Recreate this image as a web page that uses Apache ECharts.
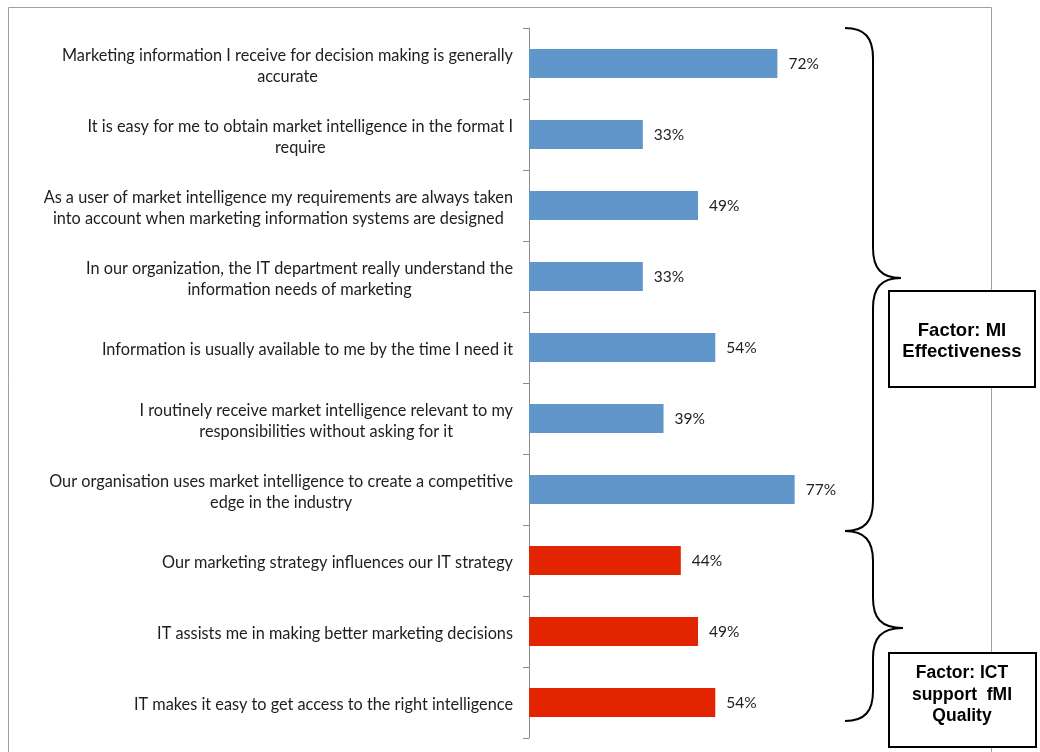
<!DOCTYPE html>
<html>
<head>
<meta charset="utf-8">
<script src="https://cdn.jsdelivr.net/npm/echarts@6/dist/echarts.min.js"></script>
<style>
html,body{margin:0;padding:0;background:#fff;}
#chart{width:1040px;height:752px;}
</style>
</head>
<body>
<div id="chart"></div>
<script>
const categories = [
  "Marketing information I receive for decision making is generally\naccurate",
  "It is easy for me to obtain market intelligence in the format I\nrequire",
  "As a user of market intelligence my requirements are always taken\ninto account when marketing information systems are designed",
  "In our organization, the IT department really understand the\ninformation needs of marketing",
  "Information is usually available to me by the time I need it",
  "I routinely receive market intelligence relevant to my\nresponsibilities without asking for it",
  "Our organisation uses market intelligence to create a competitive\nedge in the industry",
  "Our marketing strategy influences our IT strategy",
  "IT assists me in making better marketing decisions",
  "IT makes it easy to get access to the right intelligence"
];
const values = [72, 33, 49, 33, 54, 39, 77, 44, 49, 54];
const factorOf = ["MI", "MI", "MI", "MI", "MI", "MI", "MI", "ICT", "ICT", "ICT"];
const factorColors = { MI: "#6196CA", ICT: "#E32400" };
const factorBoxes = [
  "Factor: MI\nEffectiveness",
  "Factor: ICT\nsupport  fMI\nQuality"
];

const chart = echarts.init(document.getElementById('chart'));
const labelFont = 'Lato, "Open Sans", sans-serif';

// brace drawing: left x, spine x, tip x, top y, tip y, bottom y
function brace(xl, xv, xt, y0, ym, y1) {
  const st = { fill: 'none', stroke: '#000', lineWidth: 2 };
  const r = 30;
  const els = [];
  els.push({ type: 'bezierCurve', shape: { x1: xl, y1: y0, cpx1: xl + 20, cpy1: y0, cpx2: xv, cpy2: y0 + 10, x2: xv, y2: y0 + r }, style: st });
  els.push({ type: 'line', shape: { x1: xv, y1: y0 + r, x2: xv, y2: ym - r }, style: st });
  els.push({ type: 'bezierCurve', shape: { x1: xv, y1: ym - r, cpx1: xv, cpy1: ym - 10, cpx2: xv + 8, cpy2: ym, x2: xt, y2: ym }, style: st });
  els.push({ type: 'bezierCurve', shape: { x1: xt, y1: ym, cpx1: xv + 8, cpy1: ym, cpx2: xv, cpy2: ym + 10, x2: xv, y2: ym + r }, style: st });
  els.push({ type: 'line', shape: { x1: xv, y1: ym + r, x2: xv, y2: y1 - r }, style: st });
  els.push({ type: 'bezierCurve', shape: { x1: xv, y1: y1 - r, cpx1: xv, cpy1: y1 - 10, cpx2: xl + 20, cpy2: y1, x2: xl, y2: y1 }, style: st });
  return els;
}

const option = {
  animation: false,
  grid: { left: 529, top: 28, width: 345, height: 710, containLabel: false },
  xAxis: { type: 'value', min: 0, max: 100, show: false },
  yAxis: {
    type: 'category',
    inverse: true,
    data: categories,
    axisLine: { show: true, lineStyle: { color: '#8c8c8c', width: 1 } },
    axisTick: { show: true, length: 6, lineStyle: { color: '#8c8c8c' } },
    splitLine: { show: false },
    axisLabel: {
      margin: 16,
      align: 'right',
      padding: [5, 0, 0, 0],
      color: '#1e1e1e',
      fontFamily: labelFont,
      fontSize: 16.3,
      lineHeight: 21,
      formatter: function (v) {
        return v.split('\n').map(l => '{c|' + l + '}').join('\n');
      },
      rich: { c: { align: 'center', fontFamily: labelFont, fontSize: 16.3, lineHeight: 21, color: '#1e1e1e' } }
    }
  },
  series: [{
    type: 'bar',
    barWidth: 29,
    data: values.map((v, i) => ({ value: v, itemStyle: { color: factorColors[factorOf[i]] } })),
    label: {
      show: true,
      position: 'right',
      distance: 11,
      formatter: '{c}%',
      color: '#1e1e1e',
      fontFamily: labelFont,
      fontSize: 15.5
    }
  }],
  graphic: [
    { type: 'rect', z: -1, shape: { x: 8.5, y: 7.5, width: 983, height: 760 }, style: { fill: 'none', stroke: '#a0a0a0', lineWidth: 1 } }
  ].concat(brace(845, 873, 901, 28, 278, 531))
   .concat(brace(845, 873, 903, 531, 628, 721))
   .concat([
    { type: 'rect', shape: { x: 889, y: 291, width: 146, height: 96 }, style: { fill: '#fff', stroke: '#000', lineWidth: 2 } },
    { type: 'text', x: 962, y: 341, style: { text: factorBoxes[0], align: 'center', verticalAlign: 'middle', font: 'bold 18.5px "Liberation Sans", Arial, sans-serif', lineHeight: 21, fill: '#000' } },
    { type: 'rect', shape: { x: 889, y: 653, width: 147, height: 94 }, style: { fill: '#fff', stroke: '#000', lineWidth: 2 } },
    { type: 'text', x: 962, y: 695, style: { text: factorBoxes[1], align: 'center', verticalAlign: 'middle', font: 'bold 17.5px "Liberation Sans", Arial, sans-serif', lineHeight: 21.5, fill: '#000' } }
  ])
};
chart.setOption(option);
</script>
</body>
</html>
